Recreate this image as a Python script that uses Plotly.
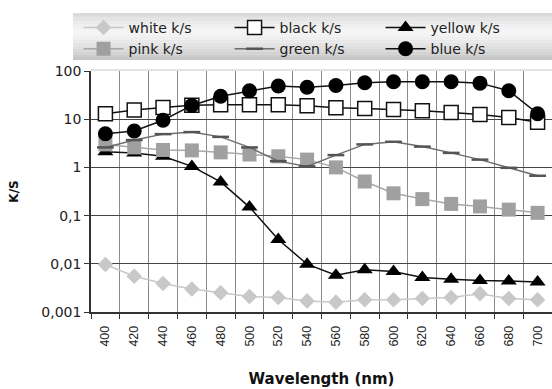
import plotly.graph_objects as go

wavelengths = [400, 420, 440, 460, 480, 500, 520, 540, 560, 580, 600, 620, 640, 660, 680, 700]
white = [0.0097, 0.0055, 0.0039, 0.0030, 0.0025, 0.0021, 0.0020, 0.0017, 0.0016, 0.0018, 0.0018, 0.0019, 0.0020, 0.0024, 0.0019, 0.0018]
black = [13.0, 15.5, 17.5, 19.5, 20.0, 20.0, 20.0, 19.0, 17.2, 16.6, 15.9, 15.0, 13.8, 12.5, 10.8, 8.6]
yellow = [2.1, 2.0, 1.7, 1.05, 0.50, 0.15, 0.032, 0.0098, 0.0058, 0.0075, 0.0069, 0.0052, 0.0048, 0.0045, 0.0044, 0.0042]
pink = [3.0, 2.6, 2.3, 2.25, 2.05, 1.85, 1.7, 1.45, 1.0, 0.51, 0.29, 0.22, 0.175, 0.155, 0.133, 0.114]
green = [2.6, 3.7, 4.9, 5.4, 4.3, 2.6, 1.35, 1.05, 1.8, 3.0, 3.4, 2.7, 2.0, 1.45, 0.98, 0.67]
blue = [5.0, 5.7, 9.5, 19.3, 30.0, 39.0, 49.0, 46.0, 50.0, 57.0, 60.0, 60.0, 60.0, 56.0, 39.0, 13.0]

ytickvals = [0.001, 0.01, 0.1, 1, 10, 100]
yticktext = ["0,001", "0,01", "0,1", "1", "10", "100"]

x = [str(w) for w in wavelengths]
font = "DejaVu Sans, Liberation Sans, sans-serif"
font2 = "Liberation Sans, Arial, sans-serif"

fig = go.Figure()
fig.add_trace(go.Scatter(x=x, y=white, name="white k/s", mode="lines+markers",
                         line=dict(color="#c8c8c8", width=1.5),
                         marker=dict(symbol="diamond", size=12, color="#c8c8c8")))
fig.add_trace(go.Scatter(x=x, y=black, name="black k/s", mode="lines+markers",
                         line=dict(color="#111111", width=1.5),
                         marker=dict(symbol="square", size=14, color="white",
                                     line=dict(color="#111111", width=1.5))))
fig.add_trace(go.Scatter(x=x, y=yellow, name="yellow k/s", mode="lines+markers",
                         line=dict(color="#111111", width=1.5),
                         marker=dict(symbol="triangle-up", size=14, color="#000000")))
fig.add_trace(go.Scatter(x=x, y=pink, name="pink k/s", mode="lines+markers",
                         line=dict(color="#a8a8a8", width=1.5),
                         marker=dict(symbol="square", size=14, color="#a0a0a0")))
fig.add_trace(go.Scatter(x=x, y=green, name="green k/s", mode="lines+markers",
                         line=dict(color="#6e6e6e", width=1.5),
                         marker=dict(symbol="line-ew", size=12,
                                     line=dict(color="#555555", width=2.5))))
fig.add_trace(go.Scatter(x=x, y=blue, name="blue k/s", mode="lines+markers",
                         line=dict(color="#111111", width=1.5),
                         marker=dict(symbol="circle", size=15, color="#000000")))

# legend background gradient (stacked bands)
x0, x1 = -0.039, 1.0
ytop, ybot = 1.2407, 1.0456
n = 16
for i in range(n):
    t = (i + 0.5) / n
    d = abs(t - 0.4) / 0.6
    v = int(245 - 50 * d ** 1.3)
    col = f"rgb({v},{v},{v})"
    ya = ytop - (ytop - ybot) * i / n
    yb = ytop - (ytop - ybot) * (i + 1) / n
    fig.add_shape(type="rect", xref="paper", yref="paper", x0=x0, x1=x1,
                  y0=yb, y1=ya, fillcolor=col, line=dict(width=0), layer="below")
fig.add_shape(type="line", xref="paper", yref="paper", x0=0, x1=1, y0=1.004, y1=1.004,
              line=dict(color="#d8d8d8", width=1.5))

fig.update_layout(
    width=552, height=389,
    margin=dict(l=91, r=0, t=71, b=77, autoexpand=False),
    paper_bgcolor="white", plot_bgcolor="white",
    font=dict(family=font, size=13, color="#222222"),
    showlegend=True,
    legend=dict(orientation="h", x=-0.027, y=1.245, xanchor="left", yanchor="top",
                bgcolor="rgba(0,0,0,0)", entrywidth=96, entrywidthmode="pixels",
                tracegroupgap=0, itemwidth=40,
                font=dict(family=font, size=14, color="#222222")),
    xaxis=dict(type="category", tickson="boundaries", showgrid=True, automargin=False,
               range=[-0.5, 15.5],
               gridcolor="#8a8a8a", gridwidth=1, showline=True, linecolor="#333333",
               linewidth=1.5, ticks="outside", ticklen=5, tickcolor="#333333",
               tickangle=-90, tickfont=dict(family=font2, size=12.5), ticklabelstandoff=7,
               title=dict(text="<b>Wavelength (nm)</b>",
                          font=dict(family=font, size=15, color="#111111"),
                          standoff=28)),
    yaxis=dict(type="log", range=[-3, 2], tickvals=ytickvals, ticktext=yticktext,
               showgrid=True, gridcolor="#444444", gridwidth=1.2, showline=True, automargin=False,
               linecolor="#333333", linewidth=1.5, ticks="outside", ticklen=5,
               tickcolor="#333333", tickfont=dict(family=font, size=14), zeroline=False,
               title=dict(text="<b>K/S</b>", font=dict(family=font, size=12, color="#111111"),
                          standoff=20)),
)

fig.write_html("out.html")
